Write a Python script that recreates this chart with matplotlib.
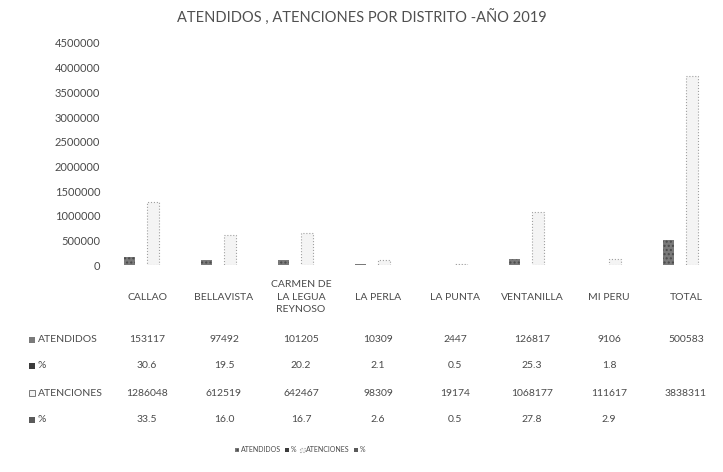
import matplotlib.pyplot as plt
import matplotlib.transforms as mtransforms
from matplotlib.patches import Rectangle
from matplotlib.ticker import FuncFormatter
import numpy as np

plt.rcParams['font.family'] = ['Lato', 'DejaVu Sans']

distritos = ["CALLAO", "BELLAVISTA", "CARMEN DE\nLA LEGUA\nREYNOSO", "LA PERLA",
             "LA PUNTA", "VENTANILLA", "MI PERU", "TOTAL"]
atendidos = [153117, 97492, 101205, 10309, 2447, 126817, 9106, 500583]
pct_atendidos = [30.6, 19.5, 20.2, 2.1, 0.5, 25.3, 1.8, None]
atenciones = [1286048, 612519, 642467, 98309, 19174, 1068177, 111617, 3838311]
pct_atenciones = [33.5, 16.0, 16.7, 2.6, 0.5, 27.8, 2.9, None]

series = [
    ("ATENDIDOS", atendidos, dict(color="#7a7a7a", hatch="....", edgecolor="#4a4a4a", lw=0)),
    ("%", pct_atendidos, dict(color="#3c3c3c")),
    ("ATENCIONES", atenciones, dict(color="#f4f4f4", edgecolor="#a0a0a0", ls=":", lw=0.8)),
    ("%", pct_atenciones, dict(color="#5a5a5a")),
]
row_txt = [
    ("ATENDIDOS", [str(v) for v in atendidos]),
    ("%", ["" if v is None else f"{v:.1f}" for v in pct_atendidos]),
    ("ATENCIONES", [str(v) for v in atenciones]),
    ("%", ["" if v is None else f"{v:.1f}" for v in pct_atenciones]),
]

W, H = 723, 472
fig = plt.figure(figsize=(W / 100, H / 100), dpi=100)
ax = fig.add_axes([108.5 / W, 1 - 265 / H, 616 / W, (265 - 43) / H])

x = np.arange(len(distritos))
w = 0.15
txtc = "#4a4a4a"
handles = []
for k, (name, vals, style) in enumerate(series):
    v = [0 if a is None else a for a in vals]
    b = ax.bar(x + (k - 1.5) * w, v, w, label=name, **style)
    handles.append(b)

ax.set_xlim(-0.5, len(distritos) - 0.5)
ax.set_ylim(0, 4500000)
ax.set_yticks(np.arange(0, 4500001, 500000))
ax.yaxis.set_major_formatter(FuncFormatter(lambda v, p: f"{v:.0f}"))
ax.tick_params(axis='y', length=0, labelsize=8, labelcolor=txtc, pad=6)
ax.set_xticks([])
for s in ax.spines.values():
    s.set_visible(False)

fig.text(0.5, 1 - 18 / H, "ATENDIDOS , ATENCIONES POR DISTRITO -AÑO 2019",
         ha='center', va='center', fontsize=10.5, color="#505050")

# data table
trans = mtransforms.blended_transform_factory(ax.transData, fig.transFigure)
for i, d in enumerate(distritos):
    ax.text(i, 1 - 297 / H, d, transform=trans, ha='center', va='center',
            fontsize=7.5, color=txtc, linespacing=1.55)

row_y = [340, 366, 393, 420]
for r, ((name, vals), (_, _, style), y) in enumerate(zip(row_txt, series, row_y)):
    yf = 1 - y / H
    fig.patches.append(Rectangle((29 / W, yf - 3 / H), 6 / W, 6 / H,
                                 transform=fig.transFigure, facecolor=style["color"],
                                 hatch=style.get("hatch"), edgecolor="#7a7a7a",
                                 lw=0.7 if r == 2 else 0))
    fig.text(38 / W, yf, name, ha='left', va='center', fontsize=7.5, color=txtc)
    for i, t in enumerate(vals):
        ax.text(i, yf, t, transform=trans, ha='center', va='center',
                fontsize=7.5, color=txtc)

fig.legend(handles=handles, loc='center', bbox_to_anchor=(0.415, 1 - 450 / H),
           ncol=4, fontsize=5, frameon=False, handlelength=0.6, handleheight=0.6,
           handletextpad=0.2, columnspacing=0.6, labelcolor=txtc)

fig.savefig("out.png", dpi=100, facecolor="white")
